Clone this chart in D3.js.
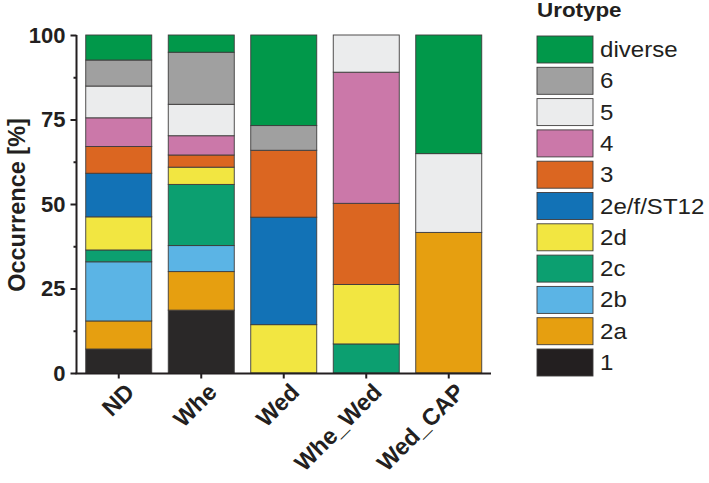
<!DOCTYPE html>
<html><head><meta charset="utf-8">
<script src="https://cdn.jsdelivr.net/npm/d3@7"></script>
<style>body{margin:0;background:#fff}svg{display:block}text{font-family:"Liberation Sans",Arial,sans-serif;fill:#231f20}</style>
</head><body><svg id="c" width="709" height="483"></svg>
<script>
const groups = ["ND","Whe","Wed","Whe_Wed","Wed_CAP"];
const types = ["1","2a","2b","2c","2d","2e/f/ST12","3","4","5","6","diverse"];
const colors = ["#2a2828","#e69f10","#5bb4e5","#0c9f70","#f2e641","#1272b6","#db6621","#cb78a9","#ebeced","#a0a0a0","#01984a"];
const v1 = [7.1, 18.6, 0, 0, 0];
const v2a = [8.3, 11.4, 0, 0, 41.6];
const v2b = [17.5, 7.7, 0, 0, 0];
const v2c = [3.5, 18.1, 0, 8.6, 0];
const v2d = [9.8, 5.1, 14.3, 17.6, 0];
const v2e = [12.9, 0, 31.8, 0, 0];
const v3 = [7.9, 3.6, 19.8, 24.0, 0];
const v4 = [8.5, 5.7, 0, 38.8, 0];
const v5 = [9.4, 9.3, 0, 11.0, 23.3];
const v6 = [7.7, 15.4, 7.3, 0, 0];
const vdiv = [7.4, 5.1, 26.8, 0, 35.1];
const yTicks = [0, 25, 50, 75, 100];
const series = [v1, v2a, v2b, v2c, v2d, v2e, v3, v4, v5, v6, vdiv];

const rows = groups.map((g, i) => {
  const r = {group: g};
  types.forEach((t, k) => r[t] = series[k][i]);
  return r;
});
const stack = d3.stack().keys(types)(rows);

const svg = d3.select("#c");
const x = d3.scaleBand().domain(groups).range([77.5, 490]).paddingInner(0.2).paddingOuter(0.1);
const y = d3.scaleLinear().domain([0, 100]).range([373, 35]);
const color = d3.scaleOrdinal().domain(types).range(colors);

// bars
svg.append("g").selectAll("g").data(stack).join("g")
  .attr("fill", d => color(d.key))
  .selectAll("rect").data(d => d.filter(s => s[1] - s[0] > 0)).join("rect")
  .attr("x", d => x(d.data.group))
  .attr("width", x.bandwidth())
  .attr("y", d => y(d[1]))
  .attr("height", d => y(d[0]) - y(d[1]))
  .attr("stroke", "#3e3c3c").attr("stroke-width", 0.9);

// y axis
const ya = svg.append("g").attr("transform", "translate(76.5,0)");
ya.call(d3.axisLeft(y).tickValues(d3.range(0, 101, 12.5)).tickSize(3).tickFormat(""));
ya.call(g => g.selectAll(".tick").filter(d => yTicks.includes(d)).select("line").attr("x2", -6));
ya.selectAll(".tick line").attr("stroke", "#231f20").attr("stroke-width", 2);
ya.select(".domain").attr("stroke", "#231f20").attr("stroke-width", 2).attr("d", "M0,35V373");
ya.selectAll(".lab").data(yTicks).join("text").attr("class", "lab")
  .attr("x", -11).attr("y", d => y(d)).attr("dy", "0.36em")
  .attr("text-anchor", "end").attr("font-weight", "bold").attr("font-size", 22)
  .text(d => d);

// x axis
const xa = svg.append("g").attr("transform", "translate(0,373.5)");
xa.call(d3.axisBottom(x).tickSize(5).tickFormat(""));
xa.selectAll(".tick line").attr("stroke", "#231f20").attr("stroke-width", 2);
xa.select(".domain").attr("stroke", "#231f20").attr("stroke-width", 2).attr("d", "M75.5,0H491");
xa.selectAll(".lab").data(groups).join("text").attr("class", "lab")
  .attr("transform", d => `translate(${x(d) + x.bandwidth()/2 + 17},${20}) rotate(-45)`)
  .attr("text-anchor", "end").attr("font-weight", "bold").attr("font-size", 23.5)
  .text(d => d);

// y title
svg.append("text").attr("transform", "translate(25,205) rotate(-90)")
  .attr("text-anchor", "middle").attr("font-weight", "bold").attr("font-size", 23.5)
  .text("Occurrence [%]");

// legend
const leg = svg.append("g");
leg.append("text").attr("transform", "translate(537,17) scale(1.12,1)").attr("font-weight", "bold").attr("font-size", 20).text("Urotype");
const legTypes = types.slice().reverse();
const li = leg.selectAll("g.it").data(legTypes).join("g").attr("class", "it")
  .attr("transform", (d, i) => `translate(537,${36 + i * 31.3})`);
li.append("rect").attr("width", 56).attr("height", 27)
  .attr("fill", d => d === "1" ? "#231f20" : color(d)).attr("stroke", "#3e3c3c").attr("stroke-width", 0.9);
li.append("text").attr("transform", "translate(63,21) scale(1.12,1)").attr("font-size", 21.5).text(d => d);
</script></body></html>
